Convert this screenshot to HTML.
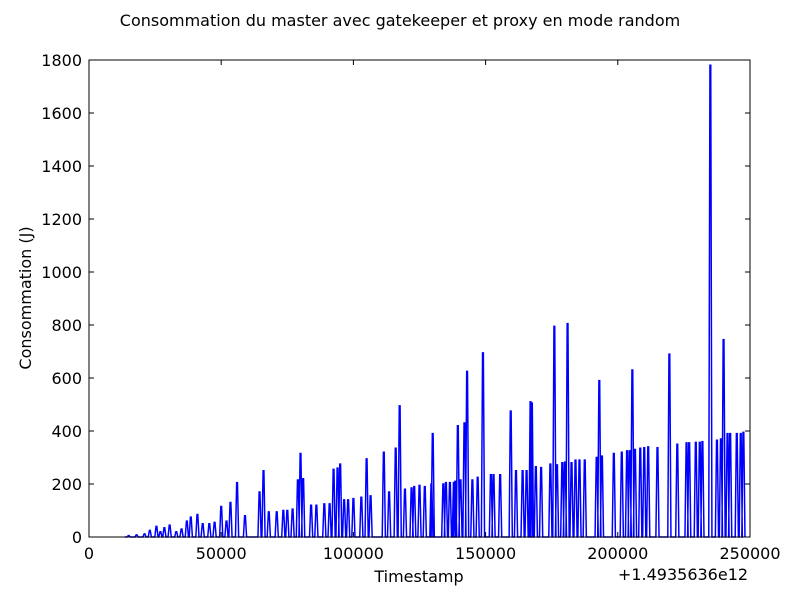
<!DOCTYPE html>
<html><head><meta charset="utf-8"><style>
body{margin:0;background:#fff;}
svg text{font-family:"DejaVu Sans","Liberation Sans",sans-serif;fill:#000;}
</style></head><body>
<svg id="chart" width="800" height="600" xmlns="http://www.w3.org/2000/svg">
<rect width="800" height="600" fill="#fff"/>
<text x="400" y="26" text-anchor="middle" font-size="16">Consommation du master avec gatekeeper et proxy en mode random</text>
<g id="plot"></g>
<rect x="89" y="60" width="661" height="477" fill="none" stroke="#000" stroke-width="1"/>
<g id="ticks"></g>
<text x="419" y="582" text-anchor="middle" font-size="16">Timestamp</text>
<text x="683" y="580" text-anchor="middle" font-size="16">+1.4935636e12</text>
<text transform="translate(31,298) rotate(-90)" text-anchor="middle" font-size="16">Consommation (J)</text>
</svg>
<script>
const spikeT=[15000,18000,21000,23000,25500,27000,28500,30500,33000,35000,37000,38500,41000,43000,45500,47500,50000,52000,53500,56000,59000,64500,66000,68000,71000,73500,75000,77000,79000,80000,81000,84000,86000,89000,91000,92500,94000,95000,96500,98000,100000,103000,105000,106500,111500,113500,116000,117500,119500,122000,123000,125000,127000,129500,130000,134000,135000,136500,138000,138500,139500,140500,142000,143000,145000,147000,149000,152000,153000,155500,159500,161500,164000,165500,167000,167500,169000,171000,174500,176000,177000,179000,180000,181000,182500,184000,185500,187500,192000,193000,194000,198500,201500,203500,204500,205500,206500,208500,210000,211500,215000,219500,222500,226000,227000,229500,231000,232000,235000,237500,239000,240000,241500,242500,245000,246500,247500];
const spikeV=[5,8,12,25,40,20,35,45,20,30,60,75,85,50,50,55,115,60,130,205,80,170,250,95,95,100,100,105,215,315,220,120,120,125,125,255,260,275,140,140,145,150,295,155,320,170,335,495,180,185,190,195,190,200,390,200,205,205,205,210,420,215,430,625,215,225,695,235,235,235,475,250,250,250,510,505,265,262,275,795,272,280,282,805,280,290,290,290,300,590,305,315,320,325,325,630,330,335,337,340,337,690,350,355,355,357,357,360,1780,365,370,745,390,390,390,390,395];
const xTicks=[0,50000,100000,150000,200000,250000];
const yTicks=[0,200,400,600,800,1000,1200,1400,1600,1800];
const X0=89,X1=750,Y0=537,Y1=60;
const xs=t=>X0+(t/250000)*(X1-X0);
const ys=v=>Y0-(v/1800)*(Y0-Y1);
const NS="http://www.w3.org/2000/svg";
let d="M"+xs(spikeT[0]-1500)+","+ys(0);
for(let i=0;i<spikeT.length;i++){
  d+=" L"+xs(spikeT[i]-600)+","+ys(0)+" L"+xs(spikeT[i]-150)+","+ys(spikeV[i])+" L"+xs(spikeT[i]+150)+","+ys(spikeV[i])+" L"+xs(spikeT[i]+600)+","+ys(0);
}
const p=document.createElementNS(NS,"path");
p.setAttribute("d",d);p.setAttribute("fill","none");p.setAttribute("stroke","#0000ff");p.setAttribute("stroke-width","1.5");


document.getElementById("plot").appendChild(p);
const tg=document.getElementById("ticks");
xTicks.forEach(v=>{
  const x=xs(v);
  const l=document.createElementNS(NS,"path");
  l.setAttribute("d",`M${x},${Y0}v-5M${x},${Y1}v5`);l.setAttribute("stroke","#000");
  
  
  tg.appendChild(l);
  const t=document.createElementNS(NS,"text");
  t.setAttribute("x",x);t.setAttribute("y",Y0+22);t.setAttribute("text-anchor","middle");t.setAttribute("font-size","16");
  t.textContent=v;
  
  
  tg.appendChild(t);
});
yTicks.forEach(v=>{
  const y=ys(v);
  const l=document.createElementNS(NS,"path");
  l.setAttribute("d",`M${X0},${y}h5M${X1},${y}h-5`);l.setAttribute("stroke","#000");
  
  
  tg.appendChild(l);
  const t=document.createElementNS(NS,"text");
  t.setAttribute("x",X0-7);t.setAttribute("y",y+6);t.setAttribute("text-anchor","end");t.setAttribute("font-size","16");
  t.textContent=v;
  
  
  tg.appendChild(t);
});
</script>
</body></html>
